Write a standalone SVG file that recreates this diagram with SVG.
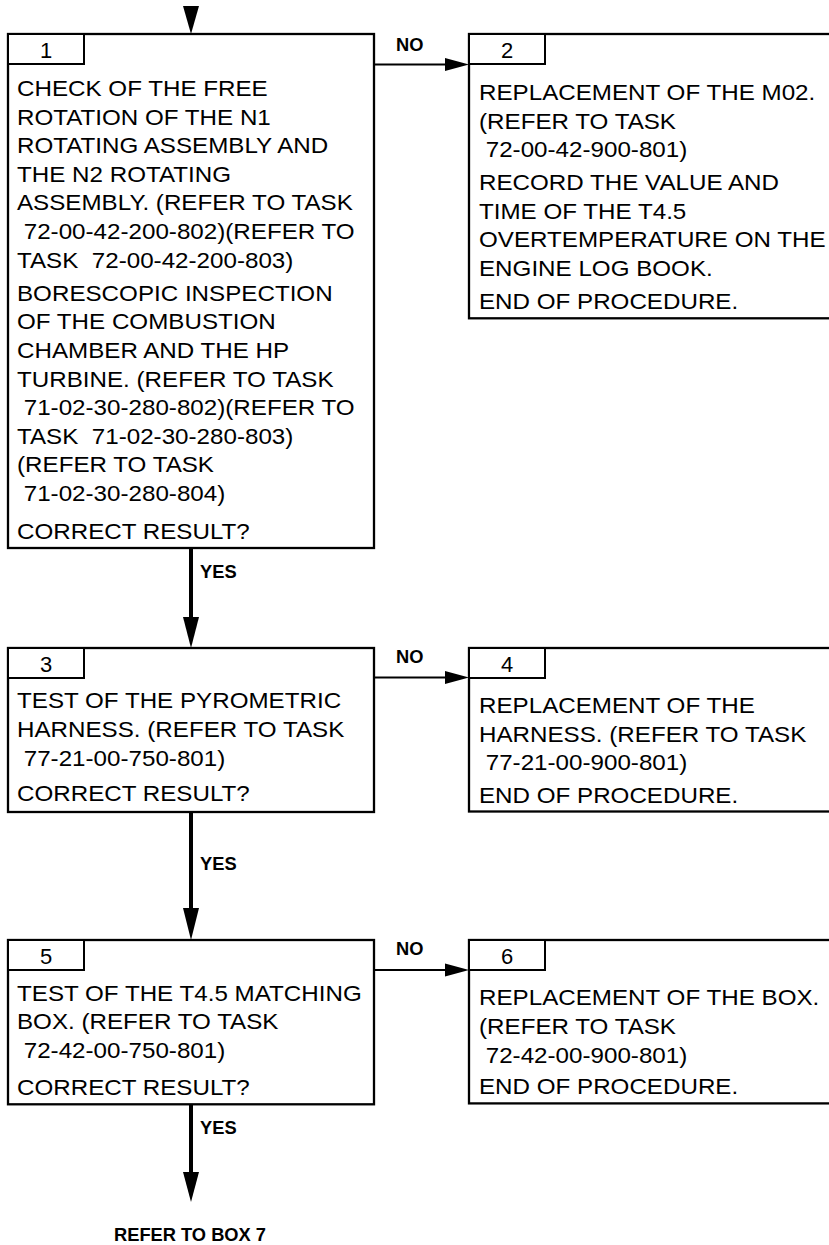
<svg xmlns="http://www.w3.org/2000/svg" width="829" height="1245" viewBox="0 0 829 1245">
<style>
.box{fill:#fff;stroke:#000;stroke-width:2.3}
.tab{fill:#fff;stroke:#000;stroke-width:2}
.t{font-family:"Liberation Sans",Arial,sans-serif;font-size:22.5px;fill:#000;white-space:pre}
.num{font-family:"Liberation Sans",Arial,sans-serif;font-size:22px;fill:#000;text-anchor:middle}
.lbl{font-family:"Liberation Sans",Arial,sans-serif;font-size:18.3px;font-weight:bold;fill:#000}
.vline{stroke:#000;stroke-width:4;fill:none}
.hline{stroke:#000;stroke-width:2;fill:none}
.head{fill:#000;stroke:none}
</style>
<rect width="829" height="1245" fill="#fff"/>

<g id="connectors">
  <polygon class="head" points="183,6 199,6 191,34"/>
  <line class="vline" x1="191" y1="548" x2="191" y2="619"/>
  <polygon class="head" points="183,617 199,617 191,648"/>
  <text class="lbl" x="200" y="577.5">YES</text>
  <line class="vline" x1="191" y1="812" x2="191" y2="910"/>
  <polygon class="head" points="183,908 199,908 191,940"/>
  <text class="lbl" x="200" y="870">YES</text>
  <line class="vline" x1="191" y1="1104" x2="191" y2="1174"/>
  <polygon class="head" points="183,1172 199,1172 191,1202"/>
  <text class="lbl" x="200" y="1134">YES</text>
  <text class="lbl" x="114" y="1241">REFER TO BOX 7</text>
  <line class="hline" x1="374" y1="64.5" x2="447" y2="64.5"/>
  <polygon class="head" points="445,58 445,71 469,64.5"/>
  <text class="lbl" x="396" y="50.5">NO</text>
  <line class="hline" x1="374" y1="677.5" x2="447" y2="677.5"/>
  <polygon class="head" points="445,671 445,684 469,677.5"/>
  <text class="lbl" x="396" y="663">NO</text>
  <line class="hline" x1="374" y1="970" x2="447" y2="970"/>
  <polygon class="head" points="445,963.5 445,976.5 469,970"/>
  <text class="lbl" x="396" y="955">NO</text>
</g>

<g id="node1">
  <rect class="box" x="8" y="34" width="366" height="514"/>
  <rect class="tab" x="8" y="34" width="76" height="30"/>
  <text class="num" x="46" y="58">1</text>
  <g transform="translate(17,0) scale(1.075,1)">
    <text class="t" x="0" y="96">CHECK OF THE FREE</text>
    <text class="t" x="0" y="124.6">ROTATION OF THE N1</text>
    <text class="t" x="0" y="153.2">ROTATING ASSEMBLY AND</text>
    <text class="t" x="0" y="181.8">THE N2 ROTATING</text>
    <text class="t" x="0" y="210.4">ASSEMBLY. (REFER TO TASK</text>
    <text class="t" x="0" y="239"> 72-00-42-200-802)(REFER TO</text>
    <text class="t" x="0" y="267.6">TASK  72-00-42-200-803)</text>
    <text class="t" x="0" y="300.8">BORESCOPIC INSPECTION</text>
    <text class="t" x="0" y="329.4">OF THE COMBUSTION</text>
    <text class="t" x="0" y="358">CHAMBER AND THE HP</text>
    <text class="t" x="0" y="386.6">TURBINE. (REFER TO TASK</text>
    <text class="t" x="0" y="415.2"> 71-02-30-280-802)(REFER TO</text>
    <text class="t" x="0" y="443.8">TASK  71-02-30-280-803)</text>
    <text class="t" x="0" y="472.4">(REFER TO TASK</text>
    <text class="t" x="0" y="501"> 71-02-30-280-804)</text>
    <text class="t" x="0" y="539">CORRECT RESULT?</text>
  </g>
</g>

<g id="node2">
  <rect class="box" x="469" y="34" width="400" height="284.3"/>
  <rect class="tab" x="469" y="34" width="76" height="30"/>
  <text class="num" x="507" y="58">2</text>
  <g transform="translate(479,0) scale(1.075,1)">
    <text class="t" x="0" y="100">REPLACEMENT OF THE M02.</text>
    <text class="t" x="0" y="128.6">(REFER TO TASK</text>
    <text class="t" x="0" y="157.2"> 72-00-42-900-801)</text>
    <text class="t" x="0" y="190">RECORD THE VALUE AND</text>
    <text class="t" x="0" y="218.6">TIME OF THE T4.5</text>
    <text class="t" x="0" y="247.2">OVERTEMPERATURE ON THE</text>
    <text class="t" x="0" y="275.8">ENGINE LOG BOOK.</text>
    <text class="t" x="0" y="309.5">END OF PROCEDURE.</text>
  </g>
</g>

<g id="node3">
  <rect class="box" x="8" y="648" width="366" height="164"/>
  <rect class="tab" x="8" y="648" width="76" height="30"/>
  <text class="num" x="46" y="672">3</text>
  <g transform="translate(17,0) scale(1.075,1)">
    <text class="t" x="0" y="708.5">TEST OF THE PYROMETRIC</text>
    <text class="t" x="0" y="737.1">HARNESS. (REFER TO TASK</text>
    <text class="t" x="0" y="765.7"> 77-21-00-750-801)</text>
    <text class="t" x="0" y="801.5">CORRECT RESULT?</text>
  </g>
</g>

<g id="node4">
  <rect class="box" x="469" y="648" width="400" height="163.5"/>
  <rect class="tab" x="469" y="648" width="76" height="30"/>
  <text class="num" x="507" y="672">4</text>
  <g transform="translate(479,0) scale(1.075,1)">
    <text class="t" x="0" y="713">REPLACEMENT OF THE</text>
    <text class="t" x="0" y="741.6">HARNESS. (REFER TO TASK</text>
    <text class="t" x="0" y="770.2"> 77-21-00-900-801)</text>
    <text class="t" x="0" y="802.7">END OF PROCEDURE.</text>
  </g>
</g>

<g id="node5">
  <rect class="box" x="8" y="940" width="366" height="164.3"/>
  <rect class="tab" x="8" y="940" width="76" height="30"/>
  <text class="num" x="46" y="964">5</text>
  <g transform="translate(17,0) scale(1.075,1)">
    <text class="t" x="0" y="1000.7">TEST OF THE T4.5 MATCHING</text>
    <text class="t" x="0" y="1029.3">BOX. (REFER TO TASK</text>
    <text class="t" x="0" y="1057.9"> 72-42-00-750-801)</text>
    <text class="t" x="0" y="1095">CORRECT RESULT?</text>
  </g>
</g>

<g id="node6">
  <rect class="box" x="469" y="940" width="400" height="163.4"/>
  <rect class="tab" x="469" y="940" width="76" height="30"/>
  <text class="num" x="507" y="964">6</text>
  <g transform="translate(479,0) scale(1.075,1)">
    <text class="t" x="0" y="1005.5">REPLACEMENT OF THE BOX.</text>
    <text class="t" x="0" y="1034.1">(REFER TO TASK</text>
    <text class="t" x="0" y="1062.7"> 72-42-00-900-801)</text>
    <text class="t" x="0" y="1094.5">END OF PROCEDURE.</text>
  </g>
</g>
</svg>
